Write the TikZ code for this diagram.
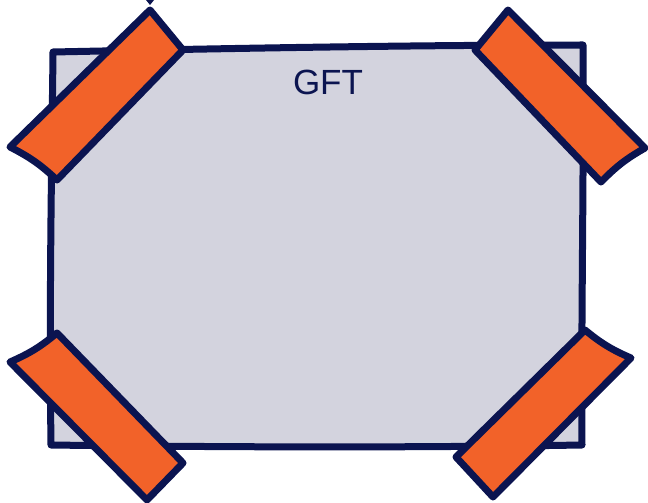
\documentclass[tikz,border=0pt]{standalone}
\usepackage{fontspec}
\setmainfont{Liberation Sans}
\definecolor{gftnavy}{HTML}{0B1450}
\definecolor{tapeorange}{HTML}{F26229}
\definecolor{paperfill}{HTML}{D3D3DE}
\tikzset{
  paper/.style={draw=gftnavy,fill=paperfill,line width=7pt,line join=round,line cap=round},
  tape/.style={draw=gftnavy,fill=tapeorange,line width=7pt,line join=round,line cap=round},
  label/.style={text=gftnavy,inner sep=0pt,font=\fontsize{35}{40}\selectfont}
}
\begin{document}
\begin{tikzpicture}[x=1pt,y=-1pt]
\useasboundingbox (0,0) rectangle (648,503);
% the sheet
\draw[paper] (53,52) .. controls (200,49) and (400,45) .. (583,45)
    .. controls (584,180) and (581,320) .. (582,445)
    .. controls (400,448) and (200,447) .. (51,445)
    .. controls (49,300) and (52,150) .. cycle;
\node[label] (title) at (328,82) {GFT};
% tapes on the corners
\draw[tape] (150,10) -- (183,50) -- (57,180) to[bend right=8] (10,147) -- cycle;
\fill[gftnavy] (146,0) -- (150,5) -- (154,0) -- cycle;
\draw[tape] (508,10) -- (645,148) to[bend right=8] (601,182) -- (475,50) -- cycle;
\draw[tape] (10,362) to[bend right=8] (57,333) -- (183,463) -- (147,500) -- cycle;
\draw[tape] (585,330) to[bend right=8] (631,358) -- (493,497) -- (456,457) -- cycle;
\end{tikzpicture}
\end{document}
